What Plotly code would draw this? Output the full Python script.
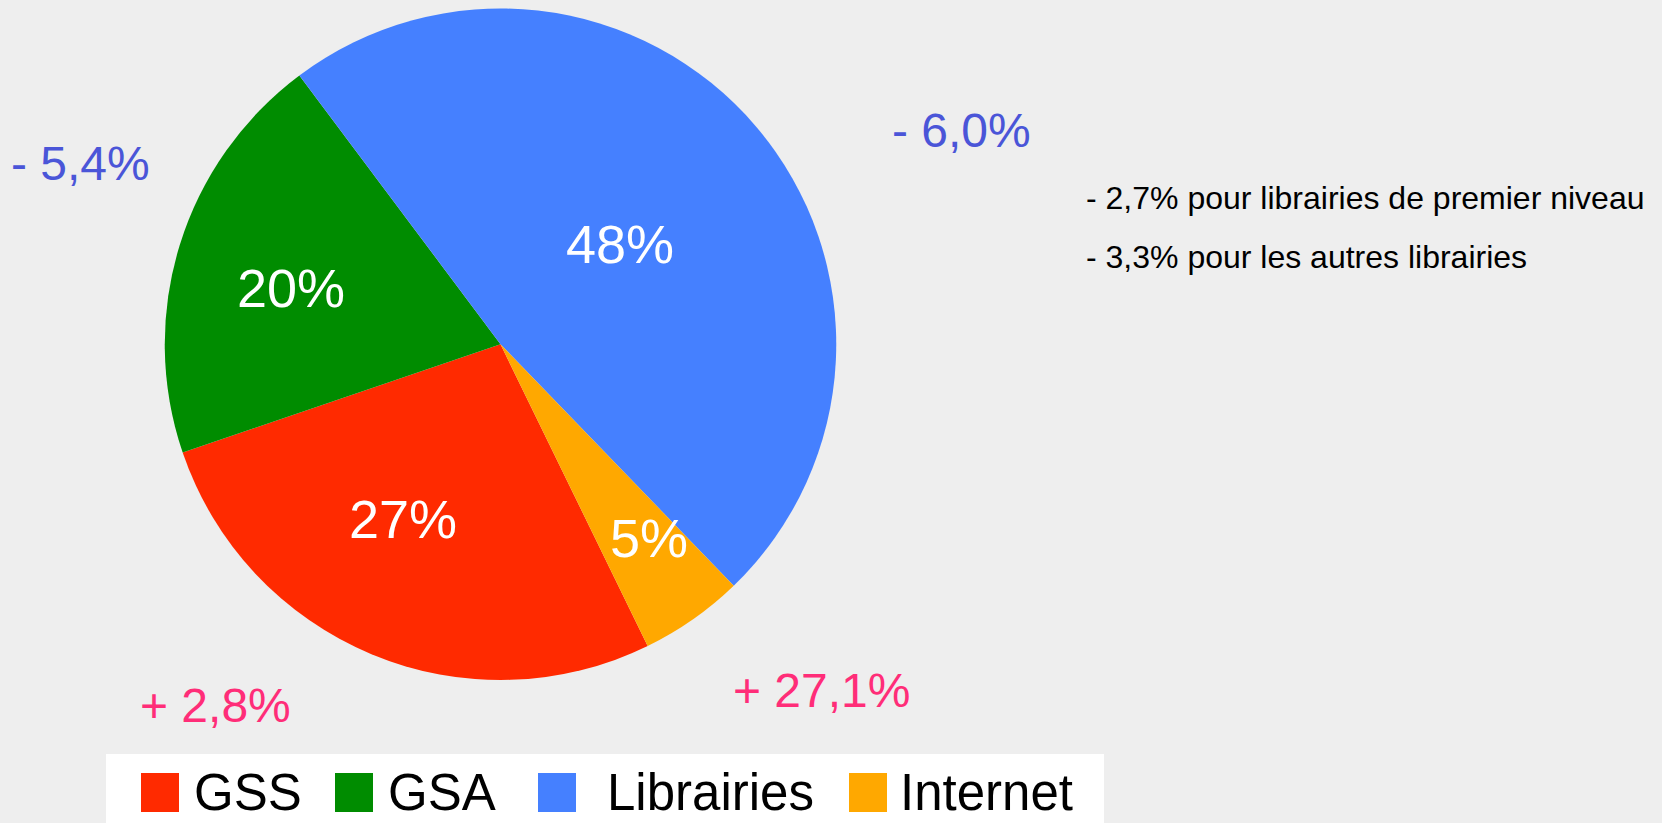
import plotly.graph_objects as go

# ---- data ----
labels = ["GSS", "GSA", "Librairies", "Internet"]
values = [27, 20, 48, 5]
colors = ["#FF2A00", "#008C00", "#4580FF", "#FFA800"]
changes = ["+ 2,8%", "- 5,4%", "- 6,0%", "+ 27,1%"]
notes = ["- 2,7% pour librairies de premier niveau",
         "- 3,3% pour les autres librairies"]

W, H = 1662, 823
BG = "#EEEEEE"
FONT = "Liberation Sans, Arial, sans-serif"


def px(x):
    return x / W


def py(y):
    return 1 - y / H


fig = go.Figure()
fig.add_trace(go.Pie(
    labels=labels,
    values=values,
    sort=False,
    direction="clockwise",
    rotation=154,
    marker=dict(colors=colors, line=dict(width=0)),
    textinfo="none",
    showlegend=False,
    hoverinfo="label+percent",
    domain=dict(x=[px(164), px(837)], y=[py(680), py(8.5)]),
))

annotations = []
shapes = []

# percentage labels inside the slices
total = sum(values)
pct_pos = [(403, 519), (291, 288), (620, 244), (649, 538)]
for v, (x, y) in zip(values, pct_pos):
    annotations.append(dict(
        text=f"{round(v / total * 100)}%", x=px(x), y=py(y),
        xref="paper", yref="paper", xanchor="center", yanchor="middle",
        showarrow=False, font=dict(family=FONT, size=54, color="white")))

# change labels around the pie
change_pos = [(215, 705), (80, 163), (961, 130), (821, 690)]
change_cols = ["#FF2D78", "#4A55D8", "#4A55D8", "#FF2D78"]
for txt, (x, y), c in zip(changes, change_pos, change_cols):
    annotations.append(dict(
        text=txt, x=px(x), y=py(y), xref="paper", yref="paper",
        xanchor="center", yanchor="middle", showarrow=False,
        font=dict(family=FONT, size=48, color=c)))

# notes on the right
for i, t in enumerate(notes):
    annotations.append(dict(
        text=t, x=px(1084), y=py(198 + 59 * i), xref="paper", yref="paper",
        xanchor="left", yanchor="middle", showarrow=False,
        font=dict(family=FONT, size=32, color="#000000")))

# legend (drawn manually)
shapes.append(dict(type="rect", xref="paper", yref="paper",
                   x0=px(106), x1=px(1104), y0=py(823), y1=py(754),
                   fillcolor="#FFFFFF", line=dict(width=0), layer="below"))
sw_x = [141, 335, 538, 849]
tx_x = [192, 386, 605, 898]
for lab, c, sx, tx in zip(labels, colors, sw_x, tx_x):
    shapes.append(dict(type="rect", xref="paper", yref="paper",
                       x0=px(sx), x1=px(sx + 38), y0=py(812), y1=py(773),
                       fillcolor=c, line=dict(width=0)))
    annotations.append(dict(
        text=lab, x=px(tx), y=py(792), xref="paper", yref="paper",
        xanchor="left", yanchor="middle", showarrow=False,
        font=dict(family=FONT, size=51, color="#000000")))

fig.update_layout(
    width=W, height=H,
    margin=dict(l=0, r=0, t=0, b=0),
    paper_bgcolor=BG, plot_bgcolor=BG,
    annotations=annotations, shapes=shapes,
)

fig.write_html(
    "out.html",
    config={"displayModeBar": False},
    post_script="document.body.style.margin='0';"
                "document.body.style.overflow='hidden';",
)
